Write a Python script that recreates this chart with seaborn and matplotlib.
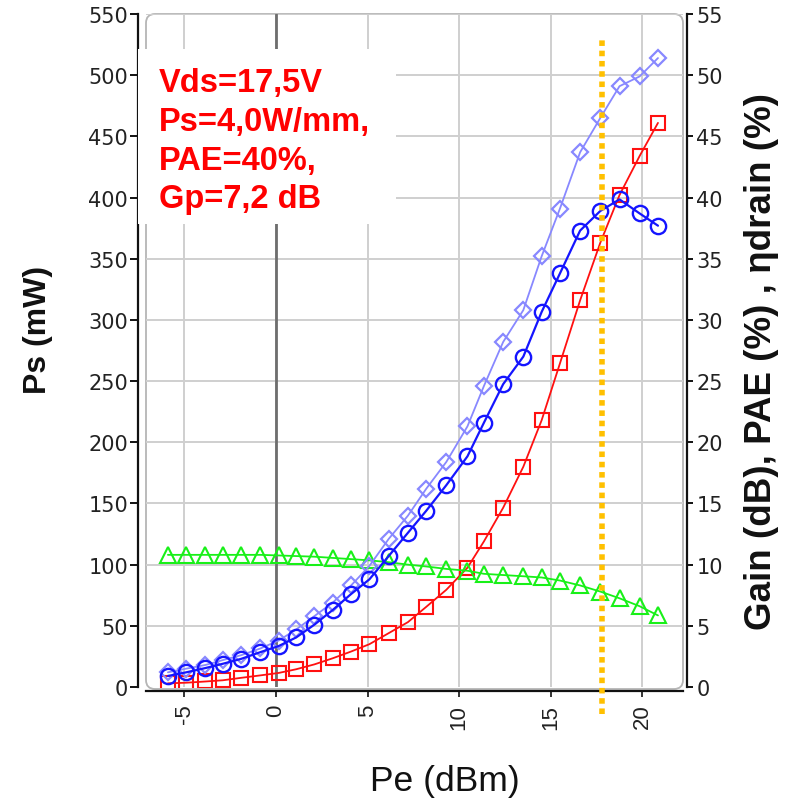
import matplotlib
matplotlib.use("Agg")
import matplotlib.pyplot as plt
from matplotlib.patches import FancyBboxPatch, Rectangle
import pandas as pd
import seaborn as sns

# Input power sweep (dBm)
pe_dbm = [-5.9, -4.9, -3.85, -2.9, -1.9, -0.85, 0.15, 1.1, 2.1, 3.1, 4.1, 5.1, 6.15,
          7.2, 8.2, 9.3, 10.45, 11.35, 12.4, 13.5, 14.5, 15.5, 16.6, 17.7, 18.75,
          19.85, 20.85]
# Output power (mW, left axis)
ps_mw = [3, 3.5, 4.5, 5.5, 7.5, 9.5, 11.5, 14.5, 18.5, 23.5, 29, 35, 44, 53, 65.5,
         79.5, 97.5, 119, 146.5, 180, 218, 264.5, 316, 363, 402, 434, 461]
# Gain (dB, right axis)
gain_db = [10.8, 10.8, 10.8, 10.8, 10.8, 10.8, 10.75, 10.7, 10.65, 10.55, 10.45,
           10.35, 10.2, 10.0, 9.85, 9.65, 9.5, 9.25, 9.15, 9.05, 8.95, 8.7, 8.3,
           7.8, 7.25, 6.6, 5.85]
# Power added efficiency (%, right axis)
pae_pct = [0.9, 1.2, 1.55, 1.9, 2.3, 2.85, 3.35, 4.05, 5.1, 6.3, 7.6, 8.8, 10.7,
           12.6, 14.4, 16.5, 18.85, 21.6, 24.75, 27.0, 30.65, 33.8, 37.3, 38.9,
           39.85, 38.7, 37.7]
# Drain efficiency (%, right axis)
eta_drain_pct = [1.2, 1.5, 1.8, 2.2, 2.6, 3.15, 3.8, 4.7, 5.8, 6.9, 8.3, 9.9, 12.1,
                 14.0, 16.2, 18.4, 21.3, 24.6, 28.2, 30.8, 35.2, 39.1, 43.7, 46.5,
                 49.1, 49.9, 51.4]
# Operating point marker (dBm)
pe_operating = 17.8

x_ticks = [-5, 0, 5, 10, 15, 20]
left_ticks = list(range(0, 551, 50))
right_ticks = list(range(0, 56, 5))
summary_lines = ["Vds=17,5V", "Ps=4,0W/mm,", "PAE=40%,", "Gp=7,2 dB"]

df = pd.DataFrame({"pe": pe_dbm, "ps": ps_mw, "gain": gain_db,
                   "pae": pae_pct, "eta": eta_drain_pct})

sns.set_theme(style="white")
plt.rcParams["font.family"] = ["Liberation Sans", "DejaVu Sans"]

W, H = 786, 803
fig = plt.figure(figsize=(W / 100, H / 100), dpi=100)
fig.patch.set_facecolor("white")

# plot area in pixels: x 146..683, y 15..688
ax = fig.add_axes([146 / W, 1 - 688 / H, (683 - 146) / W, (688 - 15) / H])
ax.patch.set_visible(False)
ax2 = ax.twinx()
ax2.patch.set_visible(False)

# rounded frame around the plotting area
frame = FancyBboxPatch((1.46, (H - 690) / 100), 5.37, (690 - 15) / 100,
                       boxstyle="round,pad=0,rounding_size=0.09",
                       transform=fig.dpi_scale_trans, facecolor="white",
                       edgecolor="#b5b5b5", linewidth=1.3, zorder=-1)
fig.add_artist(frame)

# grid
for yv in left_ticks[1:]:
    ax.axhline(yv, color="#cfcfcf", lw=1.4, zorder=0.5)
for xv in x_ticks:
    ax.axvline(xv, color="#cfcfcf", lw=1.4, zorder=0.5)
ax.axvline(0, color="#6e6e6e", lw=2.0, zorder=0.6)

line_kw = dict(sort=False, legend=False)
sns.lineplot(data=df, x="pe", y="ps", ax=ax, color="#ff1010", lw=1.3,
             marker="s", markersize=10.5, markerfacecolor="none",
             markeredgecolor="#ff1010", markeredgewidth=1.5, zorder=3, **line_kw)
sns.lineplot(data=df, x="pe", y="gain", ax=ax2, color="#18f018", lw=1.3,
             marker="^", markersize=12, markerfacecolor="none",
             markeredgecolor="#18f018", markeredgewidth=1.5, zorder=2, **line_kw)
sns.lineplot(data=df, x="pe", y="eta", ax=ax2, color="#8888ff", lw=1.3,
             marker="D", markersize=8.6, markerfacecolor="none",
             markeredgecolor="#8888ff", markeredgewidth=1.6, zorder=3, **line_kw)
sns.lineplot(data=df, x="pe", y="pae", ax=ax2, color="#1515ff", lw=1.6,
             marker="o", markersize=11, markerfacecolor="none",
             markeredgecolor="#1515ff", markeredgewidth=1.7, zorder=4, **line_kw)

# operating point
ax2.axvline(pe_operating, ymin=-0.04, ymax=0.967, color="#ffc000", lw=4.0,
            linestyle=(0, (1.0, 0.85)), clip_on=False, zorder=5)

# limits
ax.set_xlim(-7.096, 22.216)
ax.set_ylim(0, 550)
ax2.set_ylim(0, 55)

# spines
for s in ["top", "right"]:
    ax.spines[s].set_visible(False)
for s in ["top", "left", "bottom"]:
    ax2.spines[s].set_visible(False)
ax.spines["left"].set_position(("outward", 5.8))
ax.spines["bottom"].set_position(("outward", 3.0))
ax2.spines["right"].set_position(("outward", 3.0))
for sp in (ax.spines["left"], ax.spines["bottom"], ax2.spines["right"]):
    sp.set_color("#111111")
    sp.set_linewidth(1.6)

# ticks
ax.set_yticks(left_ticks)
ax.set_yticklabels([str(v) for v in left_ticks], fontfamily="DejaVu Sans",
                   fontsize=15, color="#222222")
ax.tick_params(axis="y", direction="out", length=5.5, width=1.4, pad=1.5,
               left=True, colors="#111111")
ax2.set_yticks(right_ticks)
ax2.set_yticklabels([str(v) for v in right_ticks], fontfamily="DejaVu Sans",
                    fontsize=15, color="#222222")
ax2.tick_params(axis="y", direction="out", length=4.5, width=1.4, pad=2.0,
                right=True, colors="#111111")
ax.set_xticks(x_ticks)
ax.set_xticklabels([str(v) for v in x_ticks], rotation=90, fontsize=16,
                   color="#222222")
ax.tick_params(axis="x", direction="out", length=4, width=1.2, pad=5,
               bottom=True, colors="#111111")
for lab in ax.get_yticklabels() + ax2.get_yticklabels() + ax.get_xticklabels():
    lab.set_color("#222222")

# axis labels
ax.set_xlabel("Pe (dBm)", fontsize=25.5, color="#111111")
ax.xaxis.set_label_coords((445 - 146) / 537, (688 - 782) / 673)
ax.xaxis.label.set_verticalalignment("center")
ax.set_ylabel("Ps (mW)", fontsize=23, fontweight="bold", color="#111111")
ax.yaxis.set_label_coords((38 - 146) / 537, (688 - 330) / 673)
ax.yaxis.label.set_verticalalignment("center")
ax2.set_ylabel("Gain (dB), PAE (%) , ηdrain (%)", fontsize=26.5,
               fontweight="bold", color="#111111", rotation=90)
ax2.yaxis.set_label_coords((762 - 146) / 537, (688 - 362) / 673)
ax2.yaxis.label.set_verticalalignment("center")

# summary box
box = Rectangle((138 / W, 1 - 225 / H), (396 - 138) / W, (225 - 50) / H,
                transform=fig.transFigure, facecolor="white", edgecolor="none",
                zorder=2)
fig.add_artist(box)
for i, line in enumerate(summary_lines):
    fig.text(159 / W, 1 - (92 + 38.8 * i) / H, line, color="#ff0000",
             fontsize=23.5, fontweight="bold", ha="left", va="baseline",
             zorder=3)

fig.savefig("out.png", dpi=100, facecolor="white")
